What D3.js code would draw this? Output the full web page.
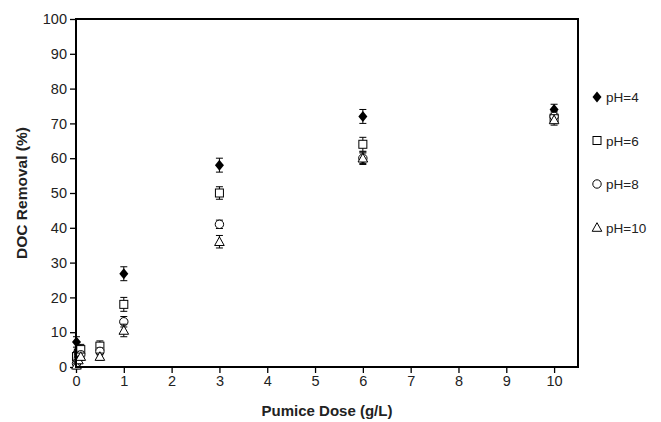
<!DOCTYPE html>
<html>
<head>
<meta charset="utf-8">
<script src="https://cdn.jsdelivr.net/npm/d3@7"></script>
<style>
  body { margin: 0; background: #fff; }
  svg { display: block; font-family: "Liberation Sans", Arial, sans-serif; }
</style>
</head>
<body>
<div id="chart"></div>
<script>
const doses = [0.01, 0.05, 0.1, 0.5, 1, 3, 6, 10];
const seriesNames = ["pH=4", "pH=6", "pH=8", "pH=10"];
const removalPH4 = [7.2, 4.5, 4, 4, 26.8, 58, 72, 74];
const removalPH6 = [3, 4, 5, 6, 18, 50, 64, 71.5];
const removalPH8 = [1, 2.5, 3.5, 4.5, 13, 41, 60, 72];
const removalPH10 = [0.5, 2, 3, 3, 10.5, 36, 60, 71];
const errPH4 = [1.5, 1.5, 1.5, 1.5, 2, 2, 2, 1.5];
const errPH6 = [1.5, 1.5, 1.5, 1.5, 2, 1.8, 2, 1.5];
const errPH8 = [1, 1, 1, 1, 1.5, 1.2, 1.5, 1.5];
const errPH10 = [1, 1, 1, 1, 1.8, 1.8, 1.8, 1.5];
const xTicks = [0, 1, 2, 3, 4, 5, 6, 7, 8, 9, 10];
const yTicks = [0, 10, 20, 30, 40, 50, 60, 70, 80, 90, 100];

const width = 661;
const height = 422;
const margin = { left: 76, right: 83, top: 19, bottom: 55 };

const svg = d3.select("#chart")
  .append("svg")
  .attr("width", width)
  .attr("height", height);

const x = d3.scaleLinear().domain([0, 10.5]).range([margin.left, width - margin.right]);
const y = d3.scaleLinear().domain([0, 100]).range([height - margin.bottom, margin.top]);

const series = [
  { name: seriesNames[0], values: removalPH4, errs: errPH4, shape: "diamond" },
  { name: seriesNames[1], values: removalPH6, errs: errPH6, shape: "square" },
  { name: seriesNames[2], values: removalPH8, errs: errPH8, shape: "circle" },
  { name: seriesNames[3], values: removalPH10, errs: errPH10, shape: "triangle" }
];

function drawMarker(g, shape, cx, cy) {
  if (shape === "diamond") {
    g.append("path")
      .attr("d", `M${cx},${cy - 5.5}L${cx + 4.5},${cy}L${cx},${cy + 5.5}L${cx - 4.5},${cy}Z`)
      .attr("fill", "#000");
  } else if (shape === "square") {
    g.append("rect")
      .attr("x", cx - 4).attr("y", cy - 4)
      .attr("width", 8).attr("height", 8)
      .attr("fill", "#fff").attr("stroke", "#000").attr("stroke-width", 1);
  } else if (shape === "circle") {
    g.append("circle")
      .attr("cx", cx).attr("cy", cy).attr("r", 4.2)
      .attr("fill", "#fff").attr("stroke", "#000").attr("stroke-width", 1);
  } else {
    g.append("path")
      .attr("d", `M${cx},${cy - 4.8}L${cx + 4.8},${cy + 3.8}L${cx - 4.8},${cy + 3.8}Z`)
      .attr("fill", "#fff").attr("stroke", "#000").attr("stroke-width", 1);
  }
}

// axes
const xAxis = svg.append("g")
  .attr("transform", `translate(0,${height - margin.bottom})`)
  .call(d3.axisBottom(x).tickValues(xTicks).tickSize(6).tickPadding(3));
const yAxis = svg.append("g")
  .attr("transform", `translate(${margin.left},0)`)
  .call(d3.axisLeft(y).tickValues(yTicks).tickSize(6).tickPadding(3));

[xAxis, yAxis].forEach((ax) => {
  ax.select(".domain").remove();
  ax.selectAll(".tick line").attr("stroke", "#000").attr("stroke-width", 1.3);
  ax.selectAll(".tick text")
    .attr("fill", "#222")
    .attr("font-size", 14.5)
    .attr("font-family", "Liberation Sans, Arial, sans-serif");
});

// points with error bars
series.forEach((s) => {
  const g = svg.append("g");
  s.values.forEach((v, i) => {
    const cx = x(doses[i]);
    const lo = y(v - s.errs[i]);
    const hi = y(v + s.errs[i]);
    g.append("line").attr("x1", cx).attr("x2", cx).attr("y1", lo).attr("y2", hi)
      .attr("stroke", "#000").attr("stroke-width", 1);
    [lo, hi].forEach((yy) => {
      g.append("line").attr("x1", cx - 3.5).attr("x2", cx + 3.5).attr("y1", yy).attr("y2", yy)
        .attr("stroke", "#000").attr("stroke-width", 1);
    });
  });
  s.values.forEach((v, i) => drawMarker(g, s.shape, x(doses[i]), y(v)));
});

// frame
svg.append("rect")
  .attr("x", margin.left)
  .attr("y", margin.top)
  .attr("width", width - margin.left - margin.right)
  .attr("height", height - margin.top - margin.bottom)
  .attr("fill", "none")
  .attr("stroke", "#000")
  .attr("stroke-width", 2);

// axis titles
svg.append("text")
  .attr("x", (margin.left + width - margin.right) / 2)
  .attr("y", 416)
  .attr("text-anchor", "middle")
  .attr("font-size", 15)
  .attr("font-weight", "bold")
  .attr("fill", "#222")
  .text("Pumice Dose (g/L)");

svg.append("text")
  .attr("transform", `translate(27,${(margin.top + height - margin.bottom) / 2}) rotate(-90)`)
  .attr("text-anchor", "middle")
  .attr("font-size", 15.5)
  .attr("font-weight", "bold")
  .attr("fill", "#222")
  .text("DOC Removal (%)");

// legend
const legend = svg.append("g");
series.forEach((s, i) => {
  const ly = 97 + i * 43.5;
  drawMarker(legend, s.shape, 597, ly);
  legend.append("text")
    .attr("x", 606)
    .attr("y", ly + 5)
    .attr("font-size", 13.5)
    .attr("fill", "#222")
    .text(s.name);
});
</script>
</body>
</html>
